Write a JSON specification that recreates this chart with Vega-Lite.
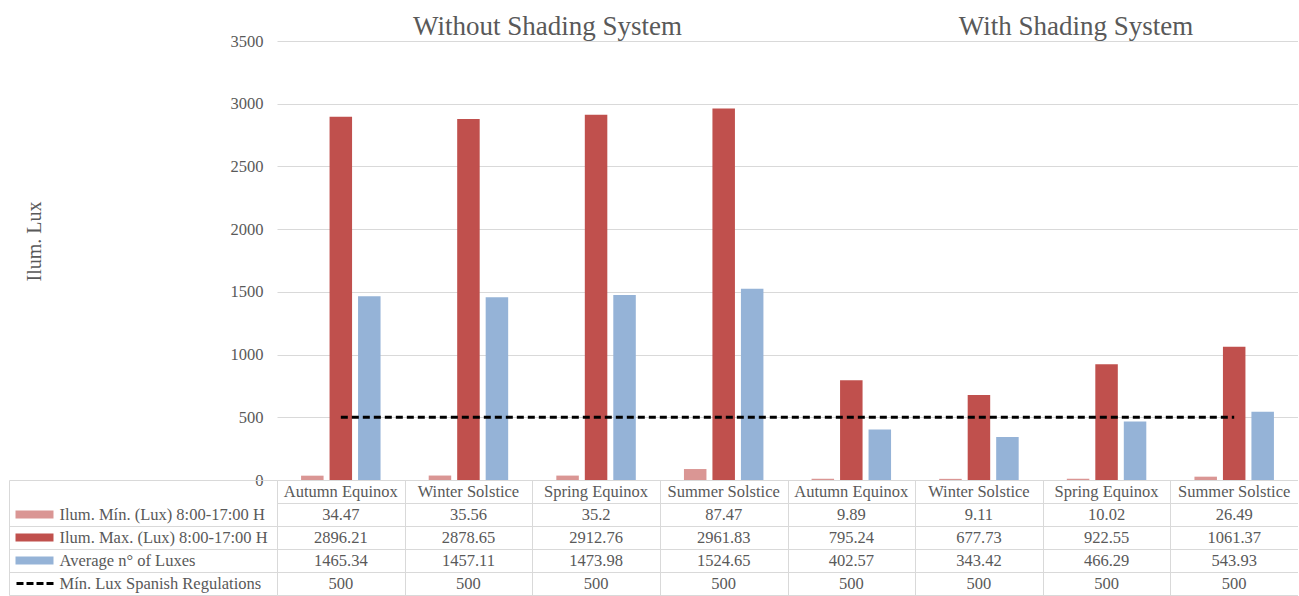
{
  "$schema": "https://vega.github.io/schema/vega-lite/v6.json",
  "padding": {"left": 8, "top": 12, "right": 0, "bottom": 0},
  "bounds": "flush",
  "spacing": 0,
  "config": {"view": {"stroke": null}, "font": "Liberation Serif"},
  "datasets": {
    "t": [
      {"key": "A1", "season": "Autumn Equinox", "min": 34.47, "max": 2896.21, "avg": 1465.34, "reg": 500},
      {"key": "W1", "season": "Winter Solstice", "min": 35.56, "max": 2878.65, "avg": 1457.11, "reg": 500},
      {"key": "S1", "season": "Spring Equinox", "min": 35.2, "max": 2912.76, "avg": 1473.98, "reg": 500},
      {"key": "U1", "season": "Summer Solstice", "min": 87.47, "max": 2961.83, "avg": 1524.65, "reg": 500},
      {"key": "A2", "season": "Autumn Equinox", "min": 9.89, "max": 795.24, "avg": 402.57, "reg": 500},
      {"key": "W2", "season": "Winter Solstice", "min": 9.11, "max": 677.73, "avg": 343.42, "reg": 500},
      {"key": "S2", "season": "Spring Equinox", "min": 10.02, "max": 922.55, "avg": 466.29, "reg": 500},
      {"key": "U2", "season": "Summer Solstice", "min": 26.49, "max": 1061.37, "avg": 543.93, "reg": 500}
    ]
  },
  "resolve": {"scale": {"x": "independent", "y": "independent"}},
  "vconcat": [
    {
      "width": 1021,
      "height": 439,
      "layer": [
        {
          "data": {"name": "t"},
          "transform": [{"fold": ["min", "max", "avg"], "as": ["series", "value"]}],
          "mark": {"type": "bar"},
          "encoding": {
            "x": {"field": "key", "type": "nominal", "sort": null,
              "scale": {"domain": ["A1", "W1", "S1", "U1", "A2", "W2", "S2", "U2"], "paddingInner": 0, "paddingOuter": 0},
              "axis": null},
            "xOffset": {"field": "series", "type": "nominal",
              "scale": {"domain": ["min", "max", "avg"], "paddingInner": 0.21, "paddingOuter": 0.845}},
            "y": {"field": "value", "type": "quantitative",
              "scale": {"domain": [0, 3500], "nice": false, "zero": true},
              "axis": {
                "values": [0, 500, 1000, 1500, 2000, 2500, 3000, 3500], "format": "d",
                "grid": true, "gridColor": "#d9d9d9", "gridWidth": 1,
                "domain": false, "ticks": false,
                "labelFont": "Liberation Serif", "labelFontSize": 16.5, "labelColor": "#595959", "labelPadding": 14,
                "title": "Ilum. Lux", "titleFont": "Liberation Serif", "titleFontSize": 20, "titleFontWeight": "normal",
                "titleColor": "#595959", "titlePadding": 186, "titleY": 200
              }},
            "color": {"field": "series", "type": "nominal",
              "scale": {"domain": ["min", "max", "avg"], "range": ["#da9694", "#c0504d", "#95b3d7"]},
              "legend": null}
          }
        },
        {
          "data": {"name": "t"},
          "mark": {"type": "line", "color": "#000000", "strokeWidth": 3, "strokeDash": [7, 4]},
          "encoding": {
            "x": {"field": "key", "type": "nominal", "sort": null},
            "y": {"field": "reg", "type": "quantitative",
              "axis": {
                "values": [0, 500, 1000, 1500, 2000, 2500, 3000, 3500], "format": "d",
                "grid": true, "gridColor": "#d9d9d9", "gridWidth": 1,
                "domain": false, "ticks": false,
                "labelFont": "Liberation Serif", "labelFontSize": 16.5, "labelColor": "#595959", "labelPadding": 14,
                "title": "Ilum. Lux", "titleFont": "Liberation Serif", "titleFontSize": 20, "titleFontWeight": "normal",
                "titleColor": "#595959", "titlePadding": 186, "titleY": 200
              }}
          }
        },
        {
          "data": {"values": [{"label": "Without Shading System", "pos": "S1"}]},
          "mark": {"type": "text", "font": "Liberation Serif", "fontSize": 27, "color": "#595959", "align": "center", "baseline": "alphabetic"},
          "encoding": {
            "x": {"field": "pos", "type": "nominal", "bandPosition": 0.12},
            "y": {"datum": 3550, "type": "quantitative",
              "axis": {
                "values": [0, 500, 1000, 1500, 2000, 2500, 3000, 3500], "format": "d",
                "grid": true, "gridColor": "#d9d9d9", "gridWidth": 1,
                "domain": false, "ticks": false,
                "labelFont": "Liberation Serif", "labelFontSize": 16.5, "labelColor": "#595959", "labelPadding": 14,
                "title": "Ilum. Lux", "titleFont": "Liberation Serif", "titleFontSize": 20, "titleFontWeight": "normal",
                "titleColor": "#595959", "titlePadding": 186, "titleY": 200
              }},
            "text": {"field": "label", "type": "nominal"}
          }
        },
        {
          "data": {"values": [{"label": "With Shading System", "pos": "S2"}]},
          "mark": {"type": "text", "font": "Liberation Serif", "fontSize": 27, "color": "#595959", "align": "center", "baseline": "alphabetic"},
          "encoding": {
            "x": {"field": "pos", "type": "nominal", "bandPosition": 0.26},
            "y": {"datum": 3550, "type": "quantitative",
              "axis": {
                "values": [0, 500, 1000, 1500, 2000, 2500, 3000, 3500], "format": "d",
                "grid": true, "gridColor": "#d9d9d9", "gridWidth": 1,
                "domain": false, "ticks": false,
                "labelFont": "Liberation Serif", "labelFontSize": 16.5, "labelColor": "#595959", "labelPadding": 14,
                "title": "Ilum. Lux", "titleFont": "Liberation Serif", "titleFontSize": 20, "titleFontWeight": "normal",
                "titleColor": "#595959", "titlePadding": 186, "titleY": 200
              }},
            "text": {"field": "label", "type": "nominal"}
          }
        }
      ]
    },
    {
      "width": 1021,
      "height": 115,
      "resolve": {"axis": {"y": "independent"}},
      "layer": [
        {
          "data": {"name": "t"},
          "mark": {"type": "text", "font": "Liberation Serif", "fontSize": 16.5, "color": "#595959", "align": "center", "baseline": "middle"},
          "encoding": {
            "x": {"field": "key", "type": "nominal", "sort": null,
              "scale": {"domain": ["A1", "W1", "S1", "U1", "A2", "W2", "S2", "U2"], "paddingInner": 0, "paddingOuter": 0},
              "axis": {"orient": "bottom", "domain": false, "ticks": false, "labels": false, "grid": true, "tickBand": "extent", "gridColor": "#d9d9d9", "gridWidth": 1, "title": null}},
            "y": {"datum": "cat", "type": "nominal",
              "scale": {"domain": ["cat", "min", "max", "avg", "reg"], "paddingInner": 0, "paddingOuter": 0},
              "axis": {
                "orient": "left", "offset": 224, "domain": false, "grid": false, "title": null,
                "ticks": true, "tickSize": 38, "tickCap": "butt",
                "tickWidth": {"condition": {"test": "datum.value === 'reg'", "value": 3}, "value": 8},
                "tickColor": {"condition": [
                  {"test": "datum.value === 'min'", "value": "#da9694"},
                  {"test": "datum.value === 'max'", "value": "#c0504d"},
                  {"test": "datum.value === 'avg'", "value": "#95b3d7"},
                  {"test": "datum.value === 'reg'", "value": "#000000"}
                ], "value": "transparent"},
                "tickDash": {"condition": {"test": "datum.value === 'reg'", "value": [7, 3]}, "value": [1, 0]},
                "labelExpr": "datum.value === 'min' ? 'Ilum. Mín. (Lux) 8:00-17:00 H' : datum.value === 'max' ? 'Ilum. Max. (Lux) 8:00-17:00 H' : datum.value === 'avg' ? 'Average n° of Luxes' : datum.value === 'reg' ? 'Mín. Lux Spanish Regulations' : ''",
                "labelAlign": "left", "labelBaseline": "middle", "labelPadding": -44,
                "labelFont": "Liberation Serif", "labelFontSize": 16.5, "labelColor": "#595959",
                "labelLimit": 400, "labelOverlap": false
              }},
            "text": {"field": "season", "type": "nominal"}
          }
        },
        {
          "data": {"name": "t"},
          "transform": [{"fold": ["min", "max", "avg", "reg"], "as": ["row", "val"]}],
          "mark": {"type": "text", "font": "Liberation Serif", "fontSize": 16.5, "color": "#595959", "align": "center", "baseline": "middle"},
          "encoding": {
            "x": {"field": "key", "type": "nominal", "sort": null,
              "scale": {"domain": ["A1", "W1", "S1", "U1", "A2", "W2", "S2", "U2"], "paddingInner": 0, "paddingOuter": 0},
              "axis": {"orient": "bottom", "domain": false, "ticks": false, "labels": false, "grid": true, "tickBand": "extent", "gridColor": "#d9d9d9", "gridWidth": 1, "title": null}},
            "y": {"field": "row", "type": "nominal",
              "scale": {"domain": ["cat", "min", "max", "avg", "reg"], "paddingInner": 0, "paddingOuter": 0},
              "axis": {
                "orient": "left", "offset": 268, "title": null,
                "domain": true, "domainColor": "#d9d9d9", "domainWidth": 1,
                "ticks": true, "tickBand": "extent", "tickSize": -268, "tickWidth": 1,
                "tickColor": {"condition": {"test": "datum.value === 'cat'", "value": "transparent"}, "value": "#d9d9d9"},
                "grid": true, "gridColor": "#d9d9d9", "gridWidth": 1,
                "labels": false
              }},
            "text": {"field": "val", "type": "nominal"}
          }
        }
      ]
    }
  ]
}
